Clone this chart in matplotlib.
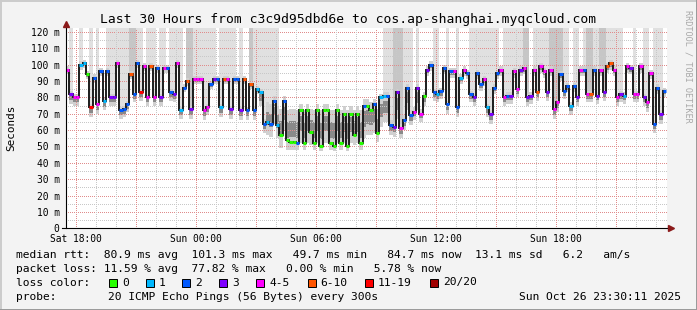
import numpy as np
import matplotlib
matplotlib.use("Agg")
import matplotlib.pyplot as plt
from matplotlib.patches import Rectangle
from matplotlib.lines import Line2D

# ---------------- data (10-minute slots, Sat 17:30 -> Sun 23:30) ----------------
median_ms = [97, 82, 80, 80, 100, 101, 94, 74, 92, 76,
             96, 78, 96, 80, 80, 101, 72, 73, 76, 94,
             82, 101, 83, 99, 80, 99, 80, 98, 80, 98,
             98, 83, 82, 101, 72, 86, 90, 73, 91, 91,
             91, 72, 74, 88, 91, 91, 74, 91, 91, 73,
             91, 91, 72, 91, 72, 88, 72, 85, 83, 64,
             65, 64, 78, 63, 57, 78, 54, 53, 53, 52,
             72, 52, 72, 59, 52, 72, 50, 72, 72, 52,
             50, 72, 52, 70, 50, 70, 57, 70, 52, 75,
             75, 72, 76, 58, 80, 81, 81, 63, 62, 83,
             61, 66, 86, 69, 71, 86, 70, 81, 97, 100,
             83, 82, 84, 98, 76, 96, 96, 74, 92, 97,
             95, 82, 80, 95, 88, 91, 74, 70, 86, 95,
             97, 80, 81, 81, 96, 85, 97, 98, 80, 81,
             97, 83, 99, 96, 83, 97, 73, 77, 94, 84,
             87, 75, 87, 80, 97, 97, 82, 82, 97, 81,
             97, 83, 99, 101, 97, 80, 82, 81, 99, 98,
             82, 82, 99, 80, 77, 95, 64, 86, 70, 84]

loss_count = [4, 3, 4, 4, 1, 1, 0, 11, 2, 4,
              2, 1, 2, 3, 3, 4, 2, 2, 2, 6,
              2, 2, 11, 4, 4, 6, 4, 2, 3, 4,
              2, 2, 3, 4, 1, 2, 6, 3, 4, 4,
              4, 4, 4, 2, 3, 2, 1, 6, 4, 3,
              2, 2, 3, 6, 2, 6, 2, 1, 1, 2,
              1, 2, 2, 1, 0, 2, 0, 0, 0, 2,
              0, 0, 0, 0, 0, 0, 0, 0, 0, 0,
              0, 0, 0, 0, 0, 0, 0, 0, 0, 2,
              0, 0, 2, 0, 1, 1, 2, 2, 3, 3,
              4, 2, 2, 2, 4, 3, 4, 0, 3, 2,
              2, 1, 2, 2, 2, 2, 4, 2, 1, 4,
              2, 2, 3, 2, 2, 4, 1, 3, 2, 2,
              4, 4, 2, 3, 4, 4, 3, 4, 3, 3,
              4, 6, 4, 4, 3, 4, 4, 4, 2, 2,
              2, 1, 2, 3, 4, 2, 4, 6, 2, 3,
              4, 3, 6, 6, 4, 4, 3, 1, 4, 3,
              4, 4, 4, 3, 4, 4, 2, 2, 3, 2]

smoke_below = [3, 6, 5, 5, 3, 3, 3, 6, 3, 6,
               3, 6, 3, 5, 5, 3, 5, 5, 5, 3,
               5, 3, 5, 3, 5, 3, 5, 3, 5, 3,
               3, 5, 5, 3, 5, 3, 3, 6, 3, 3,
               3, 6, 5, 3, 3, 3, 6, 3, 3, 6,
               3, 3, 6, 3, 6, 3, 6, 3, 8, 6,
               8, 8, 14, 8, 8, 18, 6, 5, 5, 4,
               20, 4, 20, 8, 4, 20, 3, 20, 20, 4,
               3, 20, 4, 18, 3, 18, 6, 18, 4, 20,
               18, 15, 18, 5, 18, 16, 16, 6, 6, 16,
               6, 6, 14, 6, 5, 14, 5, 6, 4, 4,
               5, 5, 5, 4, 6, 4, 4, 6, 4, 4,
               4, 5, 5, 4, 4, 4, 6, 6, 4, 4,
               4, 5, 5, 5, 4, 5, 4, 4, 5, 5,
               4, 5, 4, 4, 5, 4, 6, 6, 4, 5,
               4, 6, 4, 5, 4, 4, 5, 5, 4, 5,
               4, 5, 4, 4, 4, 5, 5, 5, 4, 4,
               5, 5, 4, 5, 6, 4, 6, 4, 6, 4]

smoke_above = [2, 2, 2, 2, 2, 2, 2, 2, 2, 2,
               2, 2, 2, 2, 2, 2, 2, 2, 2, 2,
               2, 2, 2, 2, 2, 2, 2, 2, 2, 2,
               2, 2, 2, 2, 2, 2, 2, 2, 2, 2,
               2, 2, 2, 2, 2, 2, 2, 2, 2, 2,
               2, 2, 2, 2, 2, 2, 2, 2, 2, 3,
               12, 12, 3, 12, 16, 3, 18, 20, 20, 20,
               4, 20, 4, 14, 20, 4, 22, 4, 4, 20,
               22, 4, 20, 5, 22, 5, 15, 5, 20, 4,
               4, 5, 3, 15, 2, 2, 2, 3, 3, 2,
               3, 3, 2, 3, 3, 2, 3, 2, 2, 2,
               2, 2, 2, 2, 2, 2, 2, 2, 2, 2,
               2, 2, 2, 2, 2, 2, 2, 2, 2, 2,
               2, 2, 2, 2, 2, 2, 2, 2, 2, 2,
               2, 2, 2, 2, 2, 2, 2, 2, 2, 2,
               2, 2, 2, 2, 2, 2, 2, 2, 2, 2,
               2, 2, 2, 2, 2, 2, 2, 2, 2, 2,
               2, 2, 2, 2, 2, 2, 2, 2, 2, 2]

# pings above the chart top: 0 none, 1 few (light smoke), 2 many (darker smoke)
smoke_top = [0, 1, 0, 0, 1, 0, 0, 1, 0, 1,
             0, 0, 1, 1, 1, 1, 1, 1, 1, 2,
             2, 1, 1, 0, 1, 1, 1, 0, 1, 1,
             0, 1, 1, 1, 1, 0, 2, 2, 1, 1,
             1, 1, 1, 1, 1, 0, 1, 1, 1, 1,
             1, 0, 1, 0, 0, 2, 1, 1, 1, 1,
             1, 1, 1, 1, 0, 0, 0, 0, 0, 0,
             0, 0, 0, 0, 0, 0, 0, 0, 0, 0,
             0, 0, 0, 0, 0, 0, 0, 0, 0, 0,
             0, 0, 0, 0, 0, 1, 1, 1, 2, 2,
             2, 1, 1, 1, 0, 1, 0, 0, 0, 0,
             1, 1, 0, 0, 1, 0, 0, 1, 0, 0,
             0, 1, 1, 1, 1, 1, 1, 1, 1, 1,
             0, 1, 1, 1, 1, 1, 1, 2, 2, 0,
             1, 1, 1, 1, 1, 2, 2, 2, 2, 1,
             1, 0, 1, 1, 0, 1, 2, 2, 1, 1,
             2, 2, 1, 1, 1, 1, 1, 0, 0, 0,
             1, 0, 0, 1, 1, 0, 1, 1, 1, 0]

y_ticks = [0, 10, 20, 30, 40, 50, 60, 70, 80, 90, 100, 110, 120]
y_tick_labels = ["0", "10 m", "20 m", "30 m", "40 m", "50 m", "60 m",
                 "70 m", "80 m", "90 m", "100 m", "110 m", "120 m"]
x_ticks = [0, 6, 12, 18, 24]          # hours after Sat 18:00
x_tick_labels = ["Sat 18:00", "Sun 00:00", "Sun 06:00", "Sun 12:00", "Sun 18:00"]

title = "Last 30 Hours from c3c9d95dbd6e to cos.ap-shanghai.myqcloud.com"
legend_rtt = "median rtt:  80.9 ms avg  101.3 ms max   49.7 ms min   84.7 ms now  13.1 ms sd   6.2   am/s"
legend_loss = "packet loss: 11.59 % avg  77.82 % max   0.00 % min   5.78 % now"
loss_labels = ["0", "1", "2", "3", "4-5", "6-10", "11-19", "20/20"]
loss_colors = ["#26ff00", "#00b8ff", "#0059ff", "#7e00ff", "#ff00ff", "#ff5500", "#ff0000", "#a10000"]
probe_text = "20 ICMP Echo Pings (56 Bytes) every 300s"
date_text = "Sun Oct 26 23:30:11 2025"

# ---------------- figure ----------------
W, H = 697, 310
MONO = "DejaVu Sans Mono"
fig = plt.figure(figsize=(W / 100, H / 100), dpi=100)
fig.patch.set_facecolor("#f3f3f3")

X0, X1, Y0, Y1 = 66, 667, 228.3, 28
ax = fig.add_axes([X0 / W, (H - Y0) / H, (X1 - X0) / W, (Y0 - Y1) / H])
ax.set_facecolor("white")
TMIN, TMAX = -0.5, -0.5 + (X1 - X0) / 20.0
YMAX = 122.4
ax.set_xlim(TMIN, TMAX)
ax.set_ylim(0, YMAX)

med = np.array(median_ms, float)
n = len(med)
edges = TMIN + np.arange(n + 1) / 6.0
left = edges[:-1]
wslot = 1 / 6.0

# tall smoke (pings above the top)
top = np.array(smoke_top)
for lvl, col in ((1, "#e0e0e0"), (2, "#c6c6c6")):
    m = top == lvl
    ax.bar(left[m], YMAX - med[m], bottom=med[m], width=wslot, align="edge",
           color=col, lw=0, zorder=1)

# smoke near the median
lo = med - np.array(smoke_below)
hi = med + np.array(smoke_above)
ax.bar(left, hi - lo, bottom=lo, width=wslot, align="edge", color="#d0d0d0", lw=0, zorder=2)
ilo = lo + 0.3 * (hi - lo)
ihi = lo + 0.7 * (hi - lo)
ax.bar(left, ihi - ilo, bottom=ilo, width=wslot, align="edge", color="#8a8a8a", lw=0, zorder=2)

# grid (rrdtool draws it above the areas)
dash = (0, (1, 2))
for v in np.arange(5, 125, 5):
    major = v % 10 == 0
    ax.axhline(v, color="#e08c8c" if major else "#c8c8c8", lw=0.72, ls=dash,
               antialiased=False, snap=True, zorder=3)
for h in range(0, 30):
    major = h % 3 == 0
    ax.axvline(h, color="#e08c8c" if major else "#c8c8c8", lw=0.72, ls=dash,
               antialiased=False, snap=True, zorder=3)

# median line
ax.stairs(med, edges, color="#1c1c1c", lw=1.4, baseline=None, zorder=4)


def loss_color(c):
    if c == 0:
        return loss_colors[0]
    if c == 1:
        return loss_colors[1]
    if c == 2:
        return loss_colors[2]
    if c == 3:
        return loss_colors[3]
    if c <= 5:
        return loss_colors[4]
    if c <= 10:
        return loss_colors[5]
    if c <= 19:
        return loss_colors[6]
    return loss_colors[7]


cols = [loss_color(c) for c in loss_count]
ax.hlines(med, left, left + wslot, colors=cols, lw=2.2, zorder=5)

# axes
for s in ("top", "right", "left", "bottom"):
    ax.spines[s].set_visible(False)
ax.plot([TMIN, TMIN], [0, 124.6], color="black", lw=0.8, clip_on=False, zorder=6)
ax.plot([TMIN - 0.2, TMAX + 0.1], [0, 0], color="black", lw=0.8, clip_on=False, zorder=6)
ax.plot([TMAX + 0.2], [0], marker=">", ms=4.2, color="#8b1a1a", mec="#8b1a1a", clip_on=False, zorder=7)
ax.plot([TMIN], [124.8], marker="^", ms=4.2, color="#8b1a1a", mec="#8b1a1a", clip_on=False, zorder=7)

ax.set_yticks(y_ticks)
ax.set_yticklabels(y_tick_labels, family=MONO, fontsize=6.9)
ax.set_xticks(x_ticks)
ax.set_xticklabels(x_tick_labels, family=MONO, fontsize=6.9)
ax.tick_params(axis="y", length=0, pad=4.6)
ax.tick_params(axis="x", length=0, pad=3.8)

# texts
def ftext(x, y, s, **kw):
    kw.setdefault("family", MONO)
    kw.setdefault("va", "center")
    return fig.text(x / W, 1 - y / H, s, **kw)


ftext(348.5, 19.5, title, ha="center", fontsize=9.4)
ftext(11, 128, "Seconds", ha="center", rotation=90, fontsize=7.9)
ftext(688, 66, "RRDTOOL / TOBI OETIKER", ha="center", rotation=-90, fontsize=6.1, color="#a8a8a8")

LEG = 8.1
ftext(16, 254.5, legend_rtt, ha="left", fontsize=LEG)
ftext(16, 268.5, legend_loss, ha="left", fontsize=LEG)
ftext(16, 282.5, "loss color:", ha="left", fontsize=LEG)
box_x = [109, 146, 182, 219, 256, 307.5, 365, 430]
for bx, lab, col in zip(box_x, loss_labels, loss_colors):
    fig.patches.append(Rectangle((bx / W, 1 - (282.5 + 4) / H), 8 / W, 8 / H,
                                 transform=fig.transFigure, facecolor=col,
                                 edgecolor="black", lw=0.7))
    ftext(bx + 13, 282.5, lab, ha="left", fontsize=LEG)
ftext(16, 296.5, "probe:", ha="left", fontsize=LEG)
ftext(107.5, 296.5, probe_text, ha="left", fontsize=LEG)
ftext(681, 296.5, date_text, ha="right", fontsize=LEG)

# image border (shade a / shade b)
fig.lines.append(Line2D([0, 1], [1 - 0.5 / H, 1 - 0.5 / H], transform=fig.transFigure, color="#cbcbcb", lw=1.4))
fig.lines.append(Line2D([0.5 / W, 0.5 / W], [0, 1], transform=fig.transFigure, color="#cbcbcb", lw=1.4))
fig.lines.append(Line2D([0, 1], [0.5 / H, 0.5 / H], transform=fig.transFigure, color="#999999", lw=1.4))
fig.lines.append(Line2D([1 - 0.5 / W, 1 - 0.5 / W], [0, 1], transform=fig.transFigure, color="#999999", lw=1.4))

fig.savefig("out.png", dpi=100, facecolor=fig.get_facecolor())
